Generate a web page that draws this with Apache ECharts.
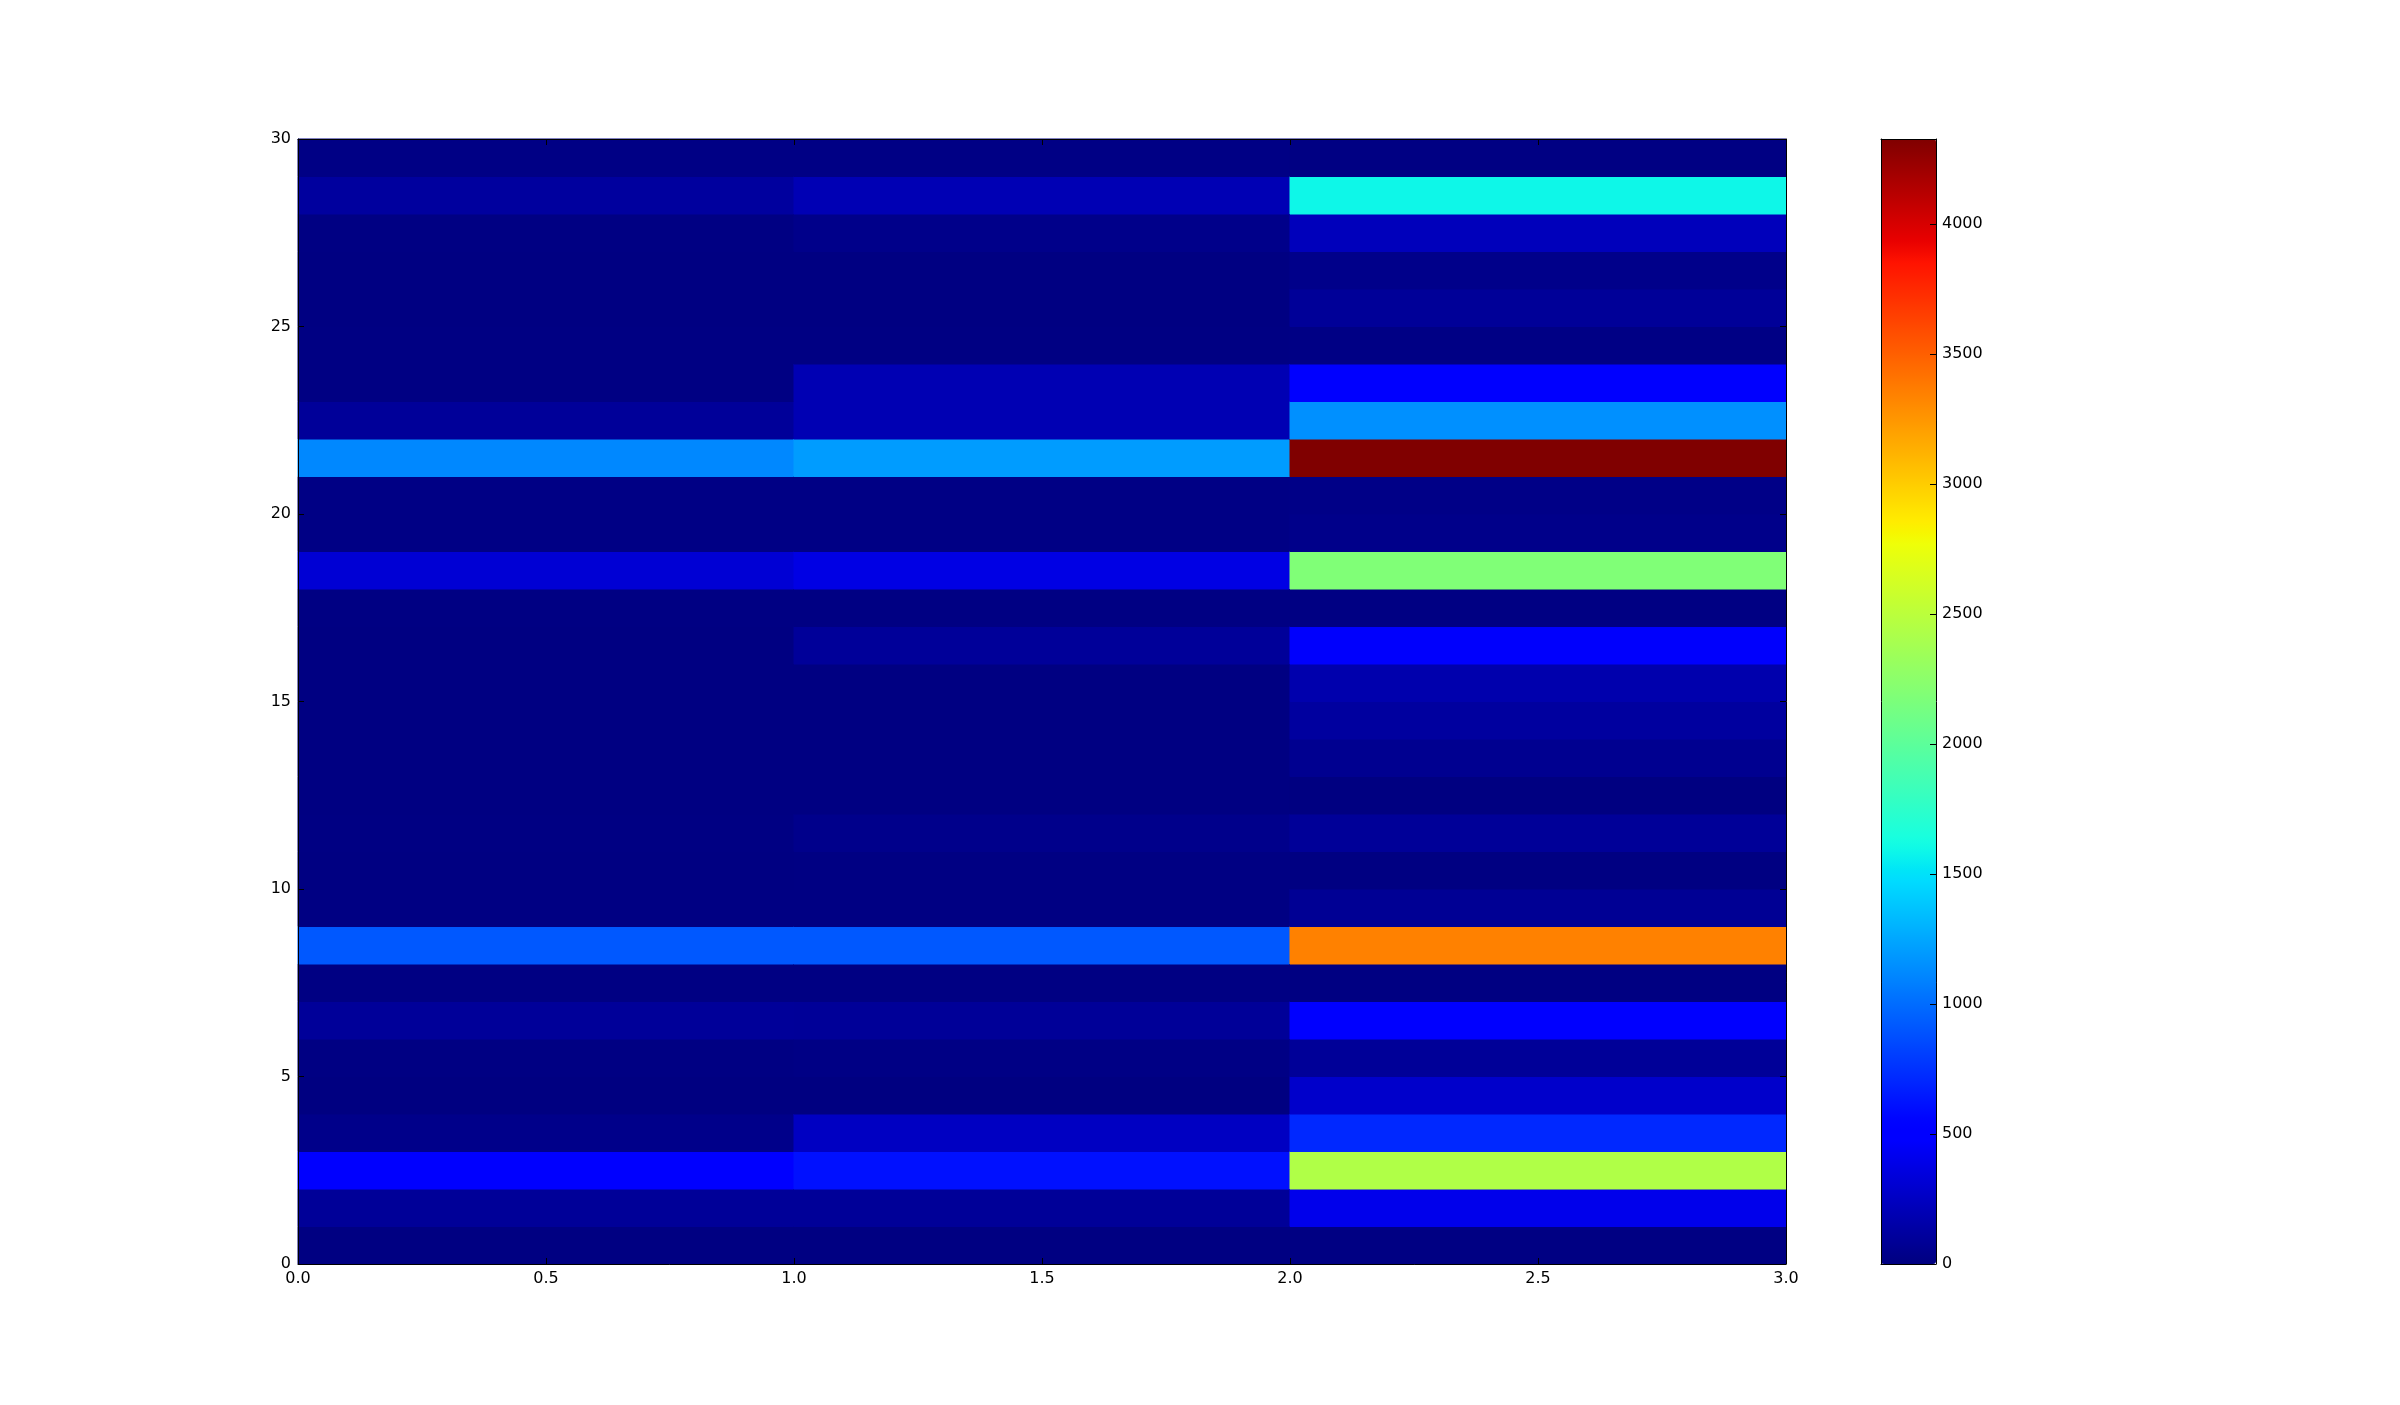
<!DOCTYPE html>
<html>
<head>
<meta charset="utf-8">
<script src="https://cdn.jsdelivr.net/npm/echarts@6/dist/echarts.min.js"></script>
<style>
html,body{margin:0;padding:0;background:#fff;}
#chart{width:2400px;height:1405px;}
</style>
</head>
<body>
<div id="chart"></div>
<script>
// Cell values, row 0 (bottom) to row 29 (top)
const col0 = [10, 90, 520, 40, 5, 15, 95, 15, 915, 15, 10, 15, 10, 10, 10, 10, 10, 15, 315, 20, 20, 1115, 95, 15, 15, 10, 10, 15, 115, 20];
const col1 = [10, 90, 610, 250, 5, 20, 90, 15, 915, 15, 15, 45, 10, 10, 10, 10, 95, 15, 375, 20, 20, 1205, 190, 190, 15, 10, 10, 40, 195, 20];
const col2 = [15, 400, 2440, 710, 280, 90, 490, 10, 3350, 75, 10, 90, 5, 60, 120, 170, 470, 15, 2185, 40, 30, 4327, 1150, 490, 20, 90, 40, 225, 1590, 15];
const columns = [col0, col1, col2];
const xTickLabels = ['0.0', '0.5', '1.0', '1.5', '2.0', '2.5', '3.0'];
const yTickLabels = ['0', '5', '10', '15', '20', '25', '30'];
const cbarTickLabels = ['0', '500', '1000', '1500', '2000', '2500', '3000', '3500', '4000'];
const vmin = 0;
const vmax = 4327;

function seg(t, pts) {
  for (let i = 1; i < pts.length; i++) {
    if (t <= pts[i][0]) {
      const [x0, y0] = pts[i - 1], [x1, y1] = pts[i];
      return y0 + (y1 - y0) * (t - x0) / (x1 - x0);
    }
  }
  return pts[pts.length - 1][1];
}
function jet(t) {
  const r = seg(t, [[0, 0], [0.35, 0], [0.66, 1], [0.89, 1], [1, 0.5]]);
  const g = seg(t, [[0, 0], [0.125, 0], [0.375, 1], [0.64, 1], [0.91, 0], [1, 0]]);
  const b = seg(t, [[0, 0.5], [0.11, 1], [0.34, 1], [0.65, 0], [1, 0]]);
  const h = v => Math.round(v * 255).toString(16).padStart(2, '0');
  return '#' + h(r) + h(g) + h(b);
}
const jetColors = [];
for (let i = 0; i <= 200; i++) jetColors.push(jet(i / 200));

const cells = [];
columns.forEach((col, ci) => col.forEach((v, ri) => cells.push([ci, ri, v])));

const FONT = 'DejaVu Sans';
const lbl = () => ({ color: '#000', fontFamily: FONT, fontSize: 16 });
const line = () => ({ show: true, onZero: false, lineStyle: { color: '#000', width: 1 } });
const tickIn = () => ({ show: true, inside: true, length: 6, lineStyle: { color: '#000', width: 1 } });
const noTick = () => ({ show: false });

const chart = echarts.init(document.getElementById('chart'), null, { renderer: 'canvas' });
chart.setOption({
  animation: false,
  backgroundColor: '#fff',
  grid: [
    { left: 298, top: 139, width: 1488, height: 1125 },
    { left: 1881, top: 139, width: 55, height: 1125 }
  ],
  xAxis: [
    { gridIndex: 0, type: 'value', position: 'bottom', min: 0, max: 3, interval: 0.5, z: 10,
      axisLine: line(), axisTick: tickIn(), splitLine: { show: false },
      axisLabel: Object.assign({ margin: 7, formatter: (v) => xTickLabels[Math.round(v * 2)] }, lbl()) },
    { gridIndex: 0, type: 'value', position: 'top', min: 0, max: 3, interval: 0.5, z: 10,
      axisLine: line(), axisTick: tickIn(), splitLine: { show: false }, axisLabel: { show: false } },
    { gridIndex: 1, type: 'value', position: 'bottom', min: 0, max: 1, z: 10,
      axisLine: line(), axisTick: noTick(), splitLine: { show: false }, axisLabel: { show: false } },
    { gridIndex: 1, type: 'value', position: 'top', min: 0, max: 1, z: 10,
      axisLine: line(), axisTick: noTick(), splitLine: { show: false }, axisLabel: { show: false } }
  ],
  yAxis: [
    { gridIndex: 0, type: 'value', position: 'left', min: 0, max: 30, interval: 5, z: 10,
      axisLine: line(), axisTick: tickIn(), splitLine: { show: false },
      axisLabel: Object.assign({ margin: 7, formatter: (v) => yTickLabels[Math.round(v / 5)] }, lbl()) },
    { gridIndex: 0, type: 'value', position: 'right', min: 0, max: 30, interval: 5, z: 10,
      axisLine: line(), axisTick: tickIn(), splitLine: { show: false }, axisLabel: { show: false } },
    { gridIndex: 1, type: 'value', position: 'left', min: vmin, max: vmax, interval: 500, z: 10,
      axisLine: line(), axisTick: noTick(), splitLine: { show: false }, axisLabel: { show: false } },
    { gridIndex: 1, type: 'value', position: 'right', min: vmin, max: vmax, interval: 500, z: 10,
      axisLine: line(),
      axisTick: tickIn(),
      splitLine: { show: false },
      axisLabel: Object.assign({ margin: 6, showMaxLabel: false,
        formatter: (v) => (v % 500 === 0 ? cbarTickLabels[v / 500] : '') }, lbl()) }
  ],
  visualMap: [{
    type: 'continuous',
    seriesIndex: 0,
    dimension: 2,
    min: vmin,
    max: vmax,
    orient: 'vertical',
    left: 1881,
    top: 139,
    itemWidth: 55,
    itemHeight: 1125,
    padding: 0,
    calculable: false,
    hoverLink: false,
    text: null,
    z: 1,
    inRange: { color: jetColors },
    textStyle: { color: 'transparent' }
  }],
  series: [
    {
      type: 'custom',
      xAxisIndex: 0,
      yAxisIndex: 0,
      encode: { x: 0, y: 1 },
      data: cells,
      renderItem: function (params, api) {
        const x = api.value(0), y = api.value(1);
        const p0 = api.coord([x, y + 1]);
        const p1 = api.coord([x + 1, y]);
        const c = api.visual('color');
        return {
          type: 'rect',
          shape: { x: p0[0], y: p0[1], width: p1[0] - p0[0], height: p1[1] - p0[1] },
          style: { fill: c, stroke: c, lineWidth: 1 }
        };
      }
    },
    { type: 'scatter', xAxisIndex: 2, yAxisIndex: 2, data: [], silent: true }
  ]
});
</script>
</body>
</html>
